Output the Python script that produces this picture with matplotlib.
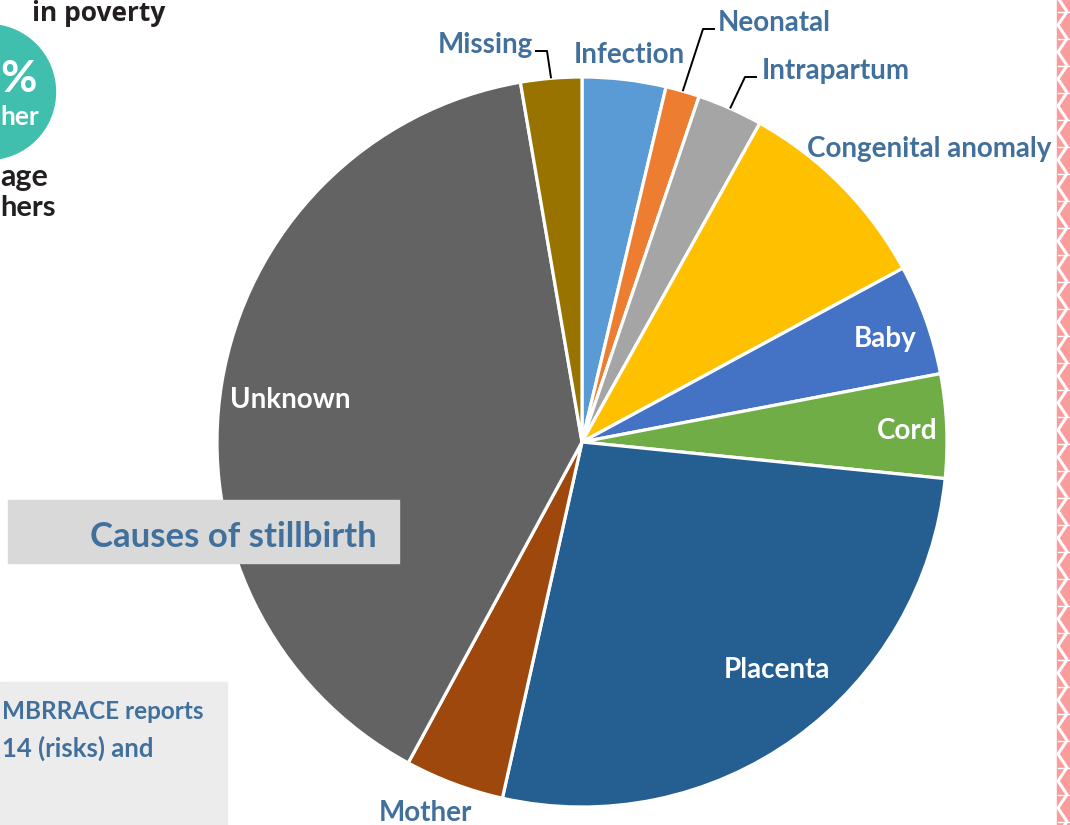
import numpy as np
import matplotlib
matplotlib.use('Agg')
import matplotlib.pyplot as plt
from matplotlib.patches import Rectangle, Circle

# ---- data ----
causes = ['Infection', 'Neonatal', 'Intrapartum', 'Congenital anomaly', 'Baby',
          'Cord', 'Placenta', 'Mother', 'Unknown', 'Missing']
shares = [3.7, 1.5, 2.9, 9.0, 4.9, 4.6, 26.9, 4.4, 39.4, 2.7]
colors = ['#5b9bd5', '#ed7d31', '#a5a5a5', '#ffc000', '#4472c4',
          '#70ad47', '#255e91', '#9e480e', '#636363', '#997300']
title = 'Causes of stillbirth'

W, H = 1070, 825
fig = plt.figure(figsize=(W / 100, H / 100), dpi=100)
ax = fig.add_axes([0, 0, 1, 1])

def Y(y):
    return H - y

BLUE = '#41709c'
FONT = 'Lato'

# background decorations (cropped infographic pieces)
ax.add_patch(Rectangle((0, Y(825)), 227, 825 - 682, color='#ececec', zorder=0))
ax.add_patch(Rectangle((8, Y(563)), 391, 63, color='#d9d9d9', zorder=3))
ax.add_patch(Circle((-12, Y(92)), 67.5, color='#40bfae', zorder=1))
ax.add_patch(Rectangle((1057, 0), 13, H, color='#fa9c9c', zorder=1))
ys = np.arange(-10, H + 30, 27)
zx, zy = [], []
for y0 in ys:
    zx += [1058, 1067]
    zy += [y0, y0 + 13.5]
ax.plot(zx, zy, color='white', lw=2.2, zorder=2)
for y0 in ys:
    ax.plot([1058, 1070], [y0 + 13.5, y0 + 13.5], color='white', lw=1.0, zorder=2)

dark = '#231f20'
ax.text(165, Y(21), 'in poverty', ha='right', va='baseline', fontsize=19,
        family='Open Sans', weight='bold', color=dark, zorder=4)
ax.text(0, Y(92), '%', ha='left', va='baseline', fontsize=32,
        family=FONT, weight='bold', color='white', zorder=4)
ax.text(0, Y(125), 'her', ha='left', va='baseline', fontsize=19,
        family=FONT, weight='bold', color='white', zorder=4)
ax.text(0, Y(186), 'age', ha='left', va='baseline', fontsize=22,
        family=FONT, weight='bold', color=dark, zorder=4)
ax.text(0, Y(216), 'hers', ha='left', va='baseline', fontsize=21,
        family=FONT, weight='bold', color=dark, zorder=4)

# ---- pie ----
cx, cy, R = 582, Y(442), 365
wedges, _ = ax.pie(shares, colors=colors, startangle=90, counterclock=False,
                   radius=R, center=(cx, cy),
                   wedgeprops=dict(edgecolor='white', linewidth=2.3))
for w in wedges:
    w.set_zorder(2)
ax.set_xlim(0, W)
ax.set_ylim(0, H)
ax.set_aspect('auto')
ax.axis('off')

ax.text(377, Y(547), title, ha='right', va='baseline', fontsize=25,
        family=FONT, weight='bold', color=BLUE, zorder=5)
ax.text(2, Y(719), 'MBRRACE reports', ha='left', va='baseline', fontsize=17.5,
        family=FONT, weight='bold', color=BLUE, zorder=4)
ax.text(2, Y(757), '14 (risks) and', ha='left', va='baseline', fontsize=18.5,
        family=FONT, weight='bold', color=BLUE, zorder=4)

# label layout: (x center, baseline y, color)
label_pos = {
    'Infection': (629, 63, BLUE),
    'Neonatal': (774, 31, BLUE),
    'Intrapartum': (836, 79, BLUE),
    'Congenital anomaly': (929, 157, BLUE),
    'Baby': (885, 347, 'white'),
    'Cord': (907, 439, 'white'),
    'Placenta': (777, 678, 'white'),
    'Mother': (425, 821, BLUE),
    'Unknown': (290, 408, 'white'),
    'Missing': (485, 53, BLUE),
}
for name in causes:
    x, y, c = label_pos[name]
    ax.text(x, Y(y), name, ha='center', va='baseline', fontsize=20,
            family=FONT, weight='bold', color=c, zorder=5)

# leader lines from wedge mid-angle on the rim
leaders = {'Missing': (547, 535, 51), 'Neonatal': (703, 715, 29),
           'Intrapartum': (745, 757, 77)}
for name, (xe, xt, yl) in leaders.items():
    w = wedges[causes.index(name)]
    th = np.deg2rad((w.theta1 + w.theta2) / 2)
    px, py = cx + R * np.cos(th), cy + R * np.sin(th)
    ax.plot([px, xe, xt], [py, Y(yl), Y(yl)], color='black', lw=1.4, zorder=5,
            solid_capstyle='butt')

fig.savefig('out.png', dpi=100)
